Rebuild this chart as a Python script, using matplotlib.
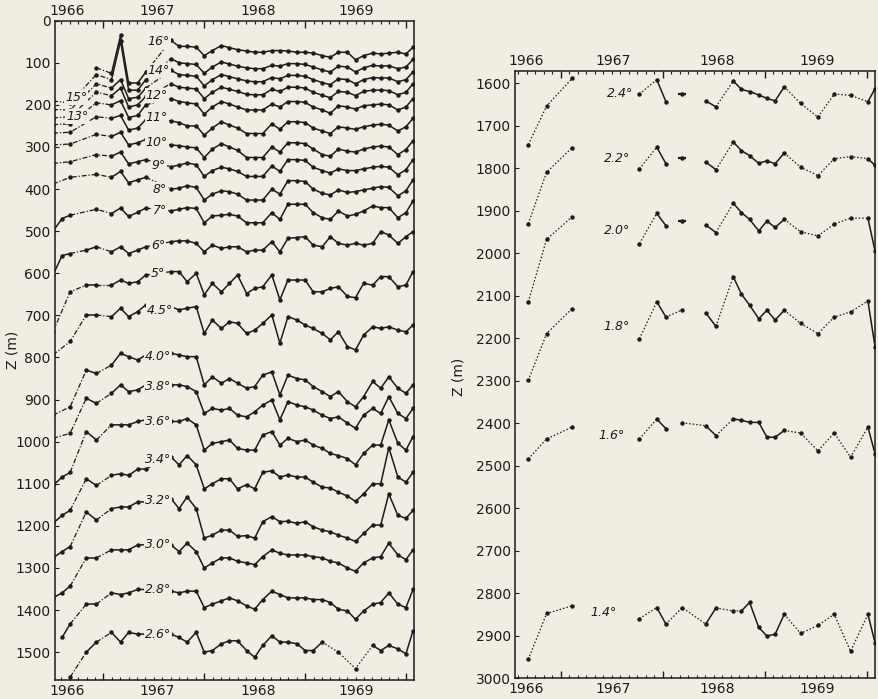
import numpy as np
import matplotlib
matplotlib.use("Agg")
import matplotlib.pyplot as plt
from matplotlib.ticker import FixedLocator, NullFormatter
import matplotlib.transforms as mtrans

BG = '#f2ede3'
INK = '#1c1c1c'

# ---------------- LEFT PANEL DATA ----------------
T_EARLY = [1966.50, 1966.59, 1966.67, 1966.83, 1966.93, 1967.08, 1967.17, 1967.25, 1967.34, 1967.42]
T_SOLID = [1967.67, 1967.75, 1967.83, 1967.92, 1968.00, 1968.08, 1968.17, 1968.25, 1968.33, 1968.42,
           1968.50, 1968.58, 1968.67, 1968.75, 1968.83, 1968.92, 1969.00, 1969.08, 1969.17, 1969.25,
           1969.33, 1969.42, 1969.50, 1969.58, 1969.67, 1969.75, 1969.83, 1969.92, 1970.00, 1970.07]
nan = np.nan

E16 = [nan, nan, nan, nan, 112, 125, 35, 148, 148, 122]
S16 = [47, 61, 61, 63, 83, 71, 59, 64, 69, 72, 75, 75, 71, 71, 72, 75, 75, 77, 83, 87, 75, 75, 93, 83, 77, 79, 77, 75, 79, 63]
E15 = [191, nan, 195, nan, 128, 140, 48, 165, 165, 140]
S15 = [90, 100, 102, 104, 125, 110, 98, 103, 108, 112, 114, 114, 106, 108, 102, 102, 104, 110, 117, 122, 108, 110, 122, 112, 106, 108, 107, 114, 110, 92]
E14 = [211, nan, 212, nan, 150, 160, 140, 185, 182, 160]
S14 = [118, 128, 130, 132, 155, 140, 128, 133, 138, 143, 145, 145, 135, 138, 130, 130, 132, 140, 147, 152, 138, 140, 150, 140, 135, 136, 136, 145, 140, 122]
E13 = [231, nan, 228, nan, 170, 178, 160, 205, 200, 180]
S13 = [150, 158, 160, 162, 185, 170, 158, 163, 168, 175, 176, 176, 163, 168, 158, 158, 160, 170, 177, 183, 168, 170, 178, 168, 165, 165, 166, 176, 170, 150]
E12 = [247, nan, 245, nan, 195, 200, 190, 230, 225, 200]
S12 = [185, 192, 195, 198, 222, 205, 192, 198, 205, 212, 212, 212, 198, 205, 192, 192, 194, 205, 212, 220, 202, 205, 210, 202, 200, 198, 200, 212, 205, 185]
E11 = [267, nan, 265, nan, 228, 232, 225, 260, 255, 235]
S11 = [238, 242, 250, 250, 272, 255, 240, 248, 255, 268, 268, 268, 245, 258, 240, 240, 242, 255, 262, 268, 252, 255, 258, 252, 248, 246, 248, 262, 252, 232]
E10 = [295, nan, 293, nan, 270, 275, 265, 295, 290, 282]
S10 = [295, 297, 300, 302, 325, 305, 292, 300, 308, 325, 325, 325, 300, 312, 290, 290, 292, 305, 318, 322, 305, 310, 312, 305, 300, 298, 300, 318, 306, 285]
E9 = [339, nan, 335, nan, 318, 322, 312, 340, 335, 330]
S9 = [347, 343, 338, 342, 370, 356, 348, 352, 358, 370, 370, 370, 345, 358, 330, 330, 332, 348, 356, 362, 352, 356, 356, 352, 348, 346, 348, 366, 354, 330]
E8 = [388, nan, 372, nan, 365, 372, 358, 385, 378, 372]
S8 = [400, 398, 392, 396, 426, 412, 404, 406, 412, 426, 426, 426, 400, 412, 380, 380, 382, 400, 410, 414, 402, 408, 406, 402, 398, 394, 396, 416, 404, 378]
E7 = [500, 470, 462, nan, 448, 458, 445, 465, 455, 445]
S7 = [452, 448, 444, 446, 480, 464, 462, 460, 464, 480, 480, 480, 456, 472, 436, 436, 436, 456, 468, 472, 452, 464, 460, 452, 440, 444, 444, 468, 456, 428]
E6 = [604, 558, 553, 545, 537, 549, 537, 553, 545, 537]
S6 = [525, 523, 523, 529, 549, 533, 541, 537, 537, 549, 545, 545, 525, 549, 517, 515, 513, 533, 537, 513, 529, 533, 529, 533, 529, 501, 509, 529, 513, 501]
E5 = [739, nan, 644, 628, 628, 628, 616, 624, 620, 604]
S5 = [596, 596, 620, 600, 651, 624, 644, 624, 604, 648, 636, 632, 604, 663, 616, 616, 616, 644, 644, 636, 632, 655, 658, 624, 628, 608, 608, 632, 628, 596]
E45 = [794, nan, 762, 699, 699, 703, 683, 703, 691, 675]
S45 = [679, 687, 683, 679, 743, 711, 731, 715, 719, 743, 735, 719, 699, 766, 703, 711, 723, 731, 743, 758, 739, 774, 782, 747, 727, 731, 727, 735, 739, 723]
E40 = [937, nan, 917, 830, 838, 818, 790, 798, 806, 794]
S40 = [790, 794, 798, 798, 865, 846, 861, 850, 861, 873, 869, 842, 834, 889, 842, 850, 853, 869, 881, 893, 881, 905, 917, 893, 857, 873, 846, 873, 885, 865]
E38 = [992, nan, 980, 897, 909, 885, 865, 881, 877, 865]
S38 = [865, 865, 869, 881, 933, 921, 925, 921, 937, 941, 929, 913, 901, 948, 905, 913, 917, 925, 937, 945, 941, 956, 968, 937, 921, 933, 893, 933, 945, 921]
E36 = [1104, 1084, 1073, 976, 996, 960, 960, 960, 952, 948]
S36 = [952, 952, 945, 960, 1020, 1004, 1000, 996, 1016, 1020, 1020, 984, 976, 1008, 992, 1000, 996, 1008, 1016, 1028, 1033, 1040, 1055, 1028, 1008, 1008, 948, 1004, 1020, 988]
E34 = [1194, 1175, 1163, 1088, 1104, 1080, 1076, 1080, 1065, 1065]
S34 = [1036, 1055, 1033, 1055, 1112, 1100, 1088, 1088, 1112, 1102, 1112, 1073, 1069, 1084, 1079, 1084, 1084, 1096, 1108, 1110, 1120, 1129, 1142, 1124, 1100, 1100, 1014, 1084, 1096, 1073]
E32 = [1276, 1261, 1249, 1167, 1186, 1159, 1155, 1155, 1143, 1143]
S32 = [1135, 1159, 1131, 1159, 1229, 1222, 1210, 1210, 1225, 1223, 1229, 1190, 1178, 1190, 1189, 1194, 1190, 1202, 1210, 1214, 1222, 1229, 1237, 1218, 1198, 1198, 1124, 1175, 1182, 1163]
E30 = [1371, 1359, 1343, 1276, 1276, 1257, 1257, 1257, 1245, 1245]
S30 = [1245, 1261, 1241, 1261, 1300, 1288, 1276, 1276, 1284, 1288, 1292, 1273, 1257, 1265, 1269, 1269, 1269, 1273, 1276, 1284, 1288, 1300, 1308, 1288, 1276, 1273, 1241, 1269, 1280, 1257]
E28 = [nan, 1465, 1433, 1386, 1386, 1359, 1363, 1359, 1351, 1351]
S28 = [1355, 1359, 1355, 1355, 1394, 1386, 1378, 1371, 1378, 1390, 1398, 1375, 1355, 1363, 1371, 1371, 1371, 1375, 1375, 1382, 1398, 1402, 1422, 1402, 1386, 1382, 1359, 1386, 1394, 1351]
E26 = [nan, nan, 1559, 1500, 1476, 1453, 1476, 1453, 1457, 1457]
S26 = [1457, 1465, 1476, 1453, 1500, 1496, 1480, 1473, 1473, 1496, 1512, 1484, 1461, 1476, 1476, 1480, 1496, 1496, 1476, nan, 1500, nan, 1539, nan, 1484, 1496, 1484, 1492, 1504, 1449]

LEFT_NAMES = ['16°', '15°', '14°', '13°', '12°', '11°', '10°', '9°', '8°', '7°', '6°', '5°', '4.5°',
              '4.0°', '3.8°', '3.6°', '3.4°', '3.2°', '3.0°', '2.8°', '2.6°']
LEFT_EARLY = [E16, E15, E14, E13, E12, E11, E10, E9, E8, E7, E6, E5, E45, E40, E38, E36, E34, E32, E30, E28, E26]
LEFT_SOLID = [S16, S15, S14, S13, S12, S11, S10, S9, S8, S7, S6, S5, S45, S40, S38, S36, S34, S32, S30, S28, S26]
# label placement (year, depth); None -> no label in the central column
LEFT_LABEL_POS = [(1967.55, 50), None, (1967.55, 118), None, (1967.53, 178), (1967.53, 230),
                  (1967.53, 290), (1967.55, 345), (1967.56, 400), (1967.56, 452), (1967.54, 533),
                  (1967.54, 600), (1967.56, 688), (1967.54, 797), (1967.54, 868), (1967.54, 952),
                  (1967.54, 1042), (1967.54, 1140), (1967.54, 1245), (1967.54, 1351), (1967.54, 1457)]
LEFT_SIDE_LABELS = [('15°', 1966.73, 183), ('13°', 1966.74, 227)]
DOTTED_26 = (1969.16, 1969.70)

# ---------------- RIGHT PANEL DATA ----------------
R_T = [1966.68, 1966.86, 1967.11, 1967.77, 1967.94, 1968.03, 1968.19, 1968.42, 1968.52, 1968.69, 1968.77,
       1968.85, 1968.94, 1969.02, 1969.10, 1969.19, 1969.35, 1969.52, 1969.68, 1969.84, 1970.01, 1970.08]
R24 = [1744, 1653, 1588, 1625, 1591, 1643, 1625, 1641, 1655, 1594, 1614, 1619, 1627, 1635, 1641, 1608, 1647, 1679, 1625, 1628, 1643, 1612]
R22 = [1930, 1809, 1751, 1801, 1750, 1789, 1775, 1785, 1803, 1738, 1758, 1770, 1788, 1782, 1789, 1764, 1797, 1817, 1777, 1772, 1777, 1793]
R20 = [2114, 1967, 1914, 1977, 1906, 1935, 1925, 1933, 1951, 1882, 1904, 1920, 1947, 1924, 1939, 1920, 1949, 1959, 1931, 1917, 1917, 1995]
R18 = [2299, 2189, 2130, 2201, 2114, 2150, 2133, 2140, 2172, 2055, 2096, 2122, 2154, 2134, 2157, 2134, 2165, 2189, 2150, 2138, 2112, 2220]
R16 = [2484, 2437, 2409, 2437, 2390, 2413, 2399, 2406, 2429, 2390, 2393, 2398, 2398, 2433, 2433, 2417, 2423, 2465, 2423, 2480, 2409, 2472]
R14 = [2956, 2848, 2830, 2860, 2834, 2873, 2834, 2873, 2835, 2842, 2842, 2822, 2881, 2901, 2897, 2850, 2895, 2876, 2850, 2937, 2850, 2917]
RIGHT_NAMES = ['2.4°', '2.2°', '2.0°', '1.8°', '1.6°', '1.4°']
RIGHT_VALUES = [R24, R22, R20, R18, R16, R14]
# segment styles: d dotted, s solid, n none
RIGHT_STYLES = ['ddndsnnsdssssssddddds', 'ddndsnnsdssssssddddds', 'ddndsnnsdssssssddddds',
                'ddndsdnsdssssssddddds', 'ddndsndsdssssssddddds', 'ddndsddsddsssssddddds']
RIGHT_LABEL_POS = [(1967.58, 1624), (1967.55, 1777), (1967.55, 1947), (1967.55, 2173),
                   (1967.50, 2429), (1967.42, 2845)]

YEAR_NAMES = ['1966', '1967', '1968', '1969']
LEFT_YEAR_POS = [1966.64, 1967.53, 1968.53, 1969.51]
RIGHT_YEAR_POS = [1966.66, 1967.51, 1968.53, 1969.51]

# ---------------- DRAWING ----------------
plt.rcParams['font.family'] = ['DejaVu Sans']
fig = plt.figure(figsize=(8.79, 6.99), dpi=100, facecolor=BG)

axL = fig.add_axes([0.0626, 0.0272, 0.4084, 0.9432], facecolor=BG)
axR = fig.add_axes([0.5859, 0.0300, 0.4096, 0.8688], facecolor=BG)

LS = {'s': '-', 'd': (0, (1.2, 1.6)), 'k': (0, (4, 1.5, 1, 1.5))}


def draw_runs(ax, t, z, styles, lw=1.0):
    i = 0
    n = len(styles)
    while i < n:
        s = styles[i]
        j = i
        while j + 1 < n and styles[j + 1] == s:
            j += 1
        if s != 'n':
            ax.plot(t[i:j + 2], z[i:j + 2], color=INK, lw=lw if s == 's' else 0.9,
                    linestyle=LS[s], solid_capstyle='round', zorder=2)
        i = j + 1
    ax.plot(t, z, linestyle='none', marker='o', ms=2.2, color=INK, zorder=3)


for name, e, s in zip(LEFT_NAMES, LEFT_EARLY, LEFT_SOLID):
    tt = np.array(T_EARLY + T_SOLID)
    zz = np.array(list(e) + list(s), dtype=float)
    ok = ~np.isnan(zz)
    tt, zz = tt[ok], zz[ok]
    st = []
    for a, b in zip(tt[:-1], tt[1:]):
        if name == '2.6°' and a >= DOTTED_26[0] and b <= DOTTED_26[1]:
            st.append('d')
        elif b - a < 0.105:
            st.append('s')
        else:
            st.append('k')
    draw_runs(axL, tt, zz, st, lw=1.1)

lab_kw = dict(fontsize=9, style='italic', color=INK, ha='center', va='center', zorder=5,
              bbox=dict(boxstyle='square,pad=0.08', fc=BG, ec='none'))
for name, pos in zip(LEFT_NAMES, LEFT_LABEL_POS):
    if pos is not None:
        axL.text(pos[0], pos[1], name, **lab_kw)
for name, x, y in LEFT_SIDE_LABELS:
    axL.text(x, y, name, **lab_kw)

for name, vals, sty, pos in zip(RIGHT_NAMES, RIGHT_VALUES, RIGHT_STYLES, RIGHT_LABEL_POS):
    t = np.array(R_T)
    z = np.array(vals, dtype=float)
    draw_runs(axR, t, z, sty, lw=1.1)
    for k in range(len(t)):
        left = sty[k - 1] if k > 0 else 'n'
        right = sty[k] if k < len(sty) else 'n'
        if left == 'n' and right == 'n':
            axR.plot([t[k]], [z[k]], marker='_', ms=6, mew=1.6, color=INK, zorder=3)
    axR.text(pos[0], pos[1], name, fontsize=9, style='italic', color=INK, ha='center', va='center')


def style_axis(ax, xlim, ylim, yticks, year_pos):
    ax.set_xlim(*xlim)
    ax.set_ylim(*ylim)
    for sp in ax.spines.values():
        sp.set_color(INK)
        sp.set_linewidth(1.1)
    ax.xaxis.set_major_locator(FixedLocator([1967, 1968, 1969, 1970]))
    months = [1966 + k / 12 for k in range(1, 50)]
    ax.xaxis.set_minor_locator(FixedLocator(months))
    ax.xaxis.set_major_formatter(NullFormatter())
    ax.tick_params(axis='x', which='major', direction='in', length=5, width=1.0, top=True, bottom=True, color=INK)
    ax.tick_params(axis='x', which='minor', direction='in', length=2.5, width=0.8, top=True, bottom=True, color=INK)
    ax.set_yticks(yticks)
    ax.set_yticklabels([str(v) for v in yticks])
    ax.tick_params(axis='y', which='major', direction='in', length=3, width=0.8, left=True, right=False,
                   labelsize=10, colors=INK, pad=3)
    trans = mtrans.blended_transform_factory(ax.transData, ax.transAxes)
    for name, x in zip(YEAR_NAMES, year_pos):
        ax.text(x, 1.004, name, transform=trans, ha='center', va='bottom', fontsize=10, color=INK)
        ax.text(x, -0.006, name, transform=trans, ha='center', va='top', fontsize=10, color=INK)


style_axis(axL, (1966.52, 1970.08), (1566, 0), list(range(0, 1501, 100)), LEFT_YEAR_POS)
style_axis(axR, (1966.55, 1970.08), (3000, 1570), list(range(1600, 3001, 100)), RIGHT_YEAR_POS)

fig.text(13 / 879, 1 - 350 / 699, 'Z (m)', rotation=90, ha='center', va='center', fontsize=10, color=INK)
fig.text(458 / 879, 1 - 377 / 699, 'Z (m)', rotation=90, ha='center', va='center', fontsize=10, color=INK)

fig.savefig('out.png', dpi=100, facecolor=BG)
